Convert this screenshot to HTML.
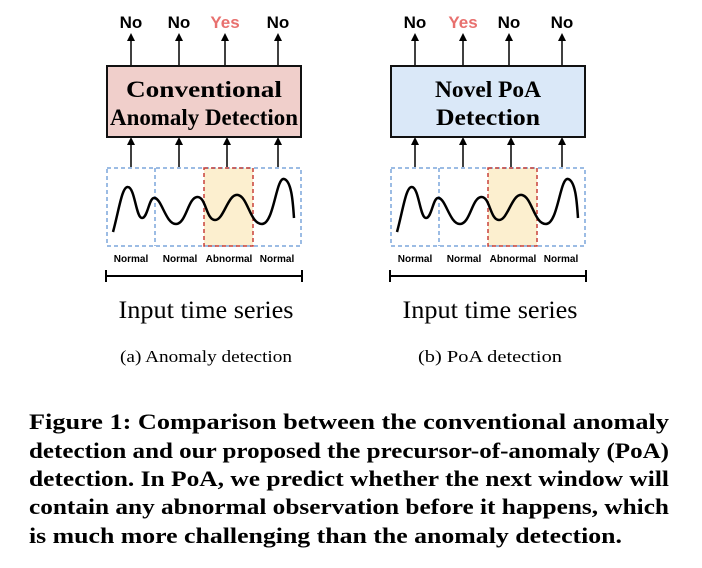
<!DOCTYPE html>
<html><head><meta charset="utf-8"><style>
body{margin:0;background:#fff;width:702px;height:568px;overflow:hidden;position:relative;font-family:"Liberation Serif",serif}
</style></head><body>
<svg width="702" height="568" style="position:absolute;left:0;top:0">
<defs><marker id="ah" markerWidth="8" markerHeight="8" refX="4" refY="4" orient="auto" markerUnits="userSpaceOnUse"><path d="M0,0 L8,4 L0,8 Z" fill="#000"/></marker></defs>
<g>
 <g font-family="Liberation Sans, sans-serif" font-weight="bold" font-size="17" text-anchor="middle">
  <text x="131" y="28">No</text><text x="179" y="28">No</text><text x="225" y="28" fill="#e8706e">Yes</text><text x="278" y="28">No</text>
 </g>
 <g stroke="#000" stroke-width="1.5" marker-end="url(#ah)">
  <line x1="131" y1="65" x2="131" y2="37"/><line x1="179" y1="65" x2="179" y2="37"/><line x1="225" y1="65" x2="225" y2="37"/><line x1="278" y1="65" x2="278" y2="37"/>
  <line x1="131" y1="167" x2="131" y2="141"/><line x1="179" y1="167" x2="179" y2="141"/><line x1="227" y1="167" x2="227" y2="141"/><line x1="278" y1="167" x2="278" y2="141"/>
 </g>
 <rect x="107" y="66" width="194" height="71" fill="#f0cfcb" stroke="#111" stroke-width="2"/>
 <g font-weight="bold" font-size="23" text-anchor="middle" font-family="Liberation Serif, serif"><text x="204" y="97" textLength="156" lengthAdjust="spacingAndGlyphs">Conventional</text><text x="204" y="125" textLength="188" lengthAdjust="spacingAndGlyphs">Anomaly Detection</text></g>
 <rect x="204" y="168" width="49" height="78" fill="#fcefcf"/>
 <g fill="none" stroke-width="1.5" stroke-dasharray="4,3">
  <rect x="107" y="168" width="194" height="78" stroke="#7ba5dc"/>
  <line x1="155" y1="168" x2="155" y2="246" stroke="#7ba5dc"/>
  <rect x="204" y="168" width="49" height="78" stroke="#c8403a"/>
 </g>
 <path d="M113,232 C119,210 122,186 128,187 C135,188 136,218 142,218 C148,218 149,196 155,198 C162,200 166,224 176,224 C186,224 188,198 197,197 C206,196 206,220 215,220 C224,220 228,193 238,195 C248,197 250,224 262,224 C274,224 276,177 284,179 C292,181 293,205 294,218" fill="none" stroke="#000" stroke-width="2.5"/>
 <g font-family="Liberation Sans, sans-serif" font-weight="bold" font-size="10" text-anchor="middle">
  <text x="131" y="262">Normal</text><text x="180" y="262">Normal</text><text x="229" y="262">Abnormal</text><text x="277" y="262">Normal</text>
 </g>
 <g stroke="#000" stroke-width="2"><line x1="106" y1="276" x2="302" y2="276"/><line x1="106" y1="270" x2="106" y2="282"/><line x1="302" y1="270" x2="302" y2="282"/></g>
 <text x="206" y="318" font-size="25" text-anchor="middle" textLength="175" lengthAdjust="spacingAndGlyphs">Input time series</text>
 <text x="206" y="362" font-size="17" text-anchor="middle" textLength="172" lengthAdjust="spacingAndGlyphs">(a)  Anomaly detection</text>
</g>
<g transform="translate(284,0)">
 <g font-family="Liberation Sans, sans-serif" font-weight="bold" font-size="17" text-anchor="middle">
  <text x="131" y="28">No</text><text x="179" y="28" fill="#e8706e">Yes</text><text x="225" y="28">No</text><text x="278" y="28">No</text>
 </g>
 <g stroke="#000" stroke-width="1.5" marker-end="url(#ah)">
  <line x1="131" y1="65" x2="131" y2="37"/><line x1="179" y1="65" x2="179" y2="37"/><line x1="225" y1="65" x2="225" y2="37"/><line x1="278" y1="65" x2="278" y2="37"/>
  <line x1="131" y1="167" x2="131" y2="141"/><line x1="179" y1="167" x2="179" y2="141"/><line x1="227" y1="167" x2="227" y2="141"/><line x1="278" y1="167" x2="278" y2="141"/>
 </g>
 <rect x="107" y="66" width="194" height="71" fill="#dae8f8" stroke="#111" stroke-width="2"/>
 <g font-weight="bold" font-size="23" text-anchor="middle" font-family="Liberation Serif, serif"><text x="204" y="97" textLength="106" lengthAdjust="spacingAndGlyphs">Novel PoA</text><text x="204" y="125" textLength="104" lengthAdjust="spacingAndGlyphs">Detection</text></g>
 <rect x="204" y="168" width="49" height="78" fill="#fcefcf"/>
 <g fill="none" stroke-width="1.5" stroke-dasharray="4,3">
  <rect x="107" y="168" width="194" height="78" stroke="#7ba5dc"/>
  <line x1="155" y1="168" x2="155" y2="246" stroke="#7ba5dc"/>
  <rect x="204" y="168" width="49" height="78" stroke="#c8403a"/>
 </g>
 <path d="M113,232 C119,210 122,186 128,187 C135,188 136,218 142,218 C148,218 149,196 155,198 C162,200 166,224 176,224 C186,224 188,198 197,197 C206,196 206,220 215,220 C224,220 228,193 238,195 C248,197 250,224 262,224 C274,224 276,177 284,179 C292,181 293,205 294,218" fill="none" stroke="#000" stroke-width="2.5"/>
 <g font-family="Liberation Sans, sans-serif" font-weight="bold" font-size="10" text-anchor="middle">
  <text x="131" y="262">Normal</text><text x="180" y="262">Normal</text><text x="229" y="262">Abnormal</text><text x="277" y="262">Normal</text>
 </g>
 <g stroke="#000" stroke-width="2"><line x1="106" y1="276" x2="302" y2="276"/><line x1="106" y1="270" x2="106" y2="282"/><line x1="302" y1="270" x2="302" y2="282"/></g>
 <text x="206" y="318" font-size="25" text-anchor="middle" textLength="175" lengthAdjust="spacingAndGlyphs">Input time series</text>
 <text x="206" y="362" font-size="17" text-anchor="middle" textLength="144" lengthAdjust="spacingAndGlyphs">(b)  PoA detection</text>
</g>
<g font-weight="bold" font-size="22.5" font-family="Liberation Serif, serif">
 <text x="29" y="429" textLength="640" lengthAdjust="spacingAndGlyphs">Figure 1: Comparison between the conventional anomaly</text>
 <text x="29" y="458" textLength="640" lengthAdjust="spacingAndGlyphs">detection and our proposed the precursor-of-anomaly (PoA)</text>
 <text x="29" y="486" textLength="640" lengthAdjust="spacingAndGlyphs">detection. In PoA, we predict whether the next window will</text>
 <text x="29" y="514" textLength="640" lengthAdjust="spacingAndGlyphs">contain any abnormal observation before it happens, which</text>
 <text x="29" y="543" textLength="593" lengthAdjust="spacingAndGlyphs">is much more challenging than the anomaly detection.</text>
</g>
</svg>
</body></html>
